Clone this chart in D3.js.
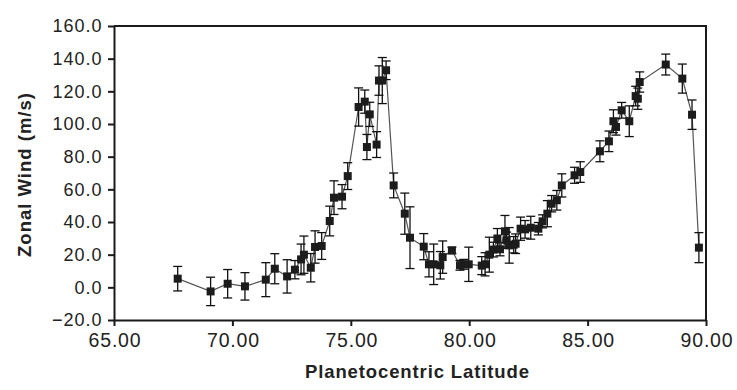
<!DOCTYPE html>
<html>
<head>
<meta charset="utf-8">
<script src="https://cdn.jsdelivr.net/npm/d3@7"></script>
<style>
  body { margin: 0; background: #fff; }
  svg { display: block; font-family: "Liberation Sans", Arial, sans-serif; }
</style>
</head>
<body>
<svg id="chart" width="737" height="390"></svg>
<script>
// planetocentric latitude (deg)
var latitude = [
    67.69, 69.08, 69.80, 70.53, 71.41, 71.79, 72.31, 72.64, 72.90, 73.02,
    73.31, 73.49, 73.77, 74.11, 74.29, 74.63, 74.87, 75.33, 75.59, 75.68,
    75.80, 76.09, 76.19, 76.33, 76.49, 76.81, 77.28, 77.50, 78.08, 78.30,
    78.50, 78.78, 78.88, 79.27, 79.61, 79.77, 79.98, 80.53, 80.67, 80.85,
    81.02, 81.19, 81.30, 81.51, 81.58, 81.69, 81.88, 81.96, 82.17, 82.36,
    82.60, 82.92, 83.10, 83.30, 83.48, 83.70, 83.91, 84.45, 84.69, 85.52,
    85.90, 86.09, 86.20, 86.44, 86.76, 87.03, 87.12, 87.20, 88.30, 89.00,
    89.41, 89.70
];
// zonal wind (m/s)
var wind = [
    5.3, -2.5, 2.2, 0.6, 4.7, 11.4, 6.7, 10.8, 17.1, 20.0,
    12.0, 24.7, 25.3, 40.6, 54.9, 55.5, 68.1, 110.4, 113.7, 85.9,
    105.9, 87.4, 126.6, 126.6, 132.9, 62.4, 45.1, 30.4, 24.9, 14.1,
    14.1, 13.5, 18.5, 22.6, 13.5, 14.1, 14.1, 13.3, 14.1, 20.0,
    23.1, 29.9, 23.3, 34.3, 28.8, 25.7, 26.1, 26.7, 35.9, 35.5,
    36.5, 35.9, 40.4, 45.1, 51.2, 53.3, 62.4, 68.6, 70.6, 83.3,
    89.4, 101.7, 98.2, 108.4, 101.7, 117.1, 115.5, 125.7, 136.4, 127.8,
    105.7, 24.3
];
// error bar half-length (m/s)
var windErr = [
    7.5, 8.7, 8.7, 8.4, 10.4, 9.2, 10.2, 5.6, 9.4, 11.4,
    8.7, 9.9, 8.2, 9.1, 10.3, 7.4, 8.2, 11.7, 7.1, 7.7,
    7.4, 7.9, 9.0, 14.1, 5.7, 7.6, 12.6, 18.9, 8.0, 7.7,
    12.4, 8.4, 9.9, 2.0, 3.0, 3.0, 10.5, 5.5, 7.1, 10.7,
    4.5, 6.1, 4.0, 9.7, 5.0, 10.9, 5.0, 6.0, 7.1, 5.4,
    7.0, 3.8, 4.0, 8.0, 5.0, 6.0, 7.1, 4.9, 6.3, 6.4,
    6.3, 7.0, 5.0, 4.8, 9.4, 6.0, 6.5, 6.2, 6.4, 8.9,
    9.0, 9.2
];
var xTicks = [65, 70, 75, 80, 85, 90];
var yTicks = [-20, 0, 20, 40, 60, 80, 100, 120, 140, 160];

var points = latitude.map(function(d, i) {
    return {x: d, y: wind[i], e: windErr[i]};
});

var margin = { top: 26, right: 31, bottom: 70, left: 114 };
var width = 737 - margin.left - margin.right;
var height = 320 - margin.top;

var svg = d3.select("#chart")
    .append("g")
    .attr("transform", "translate(" + margin.left + "," + margin.top + ")");

var xScale = d3.scaleLinear().domain([65, 90]).range([0, width]);
var yScale = d3.scaleLinear().domain([-20, 160]).range([height, 0]);

// frame top and right
svg.append("path")
    .attr("d", "M0,0H" + width + "V" + height)
    .attr("fill", "none")
    .attr("stroke", "#1a1a1a")
    .attr("stroke-width", 2);

// x axis
var xAxis = svg.append("g")
    .attr("transform", "translate(0," + height + ")")
    .call(d3.axisBottom(xScale)
        .tickValues(xTicks)
        .tickFormat(d3.format(".2f"))
        .tickSize(6)
        .tickSizeOuter(0));
xAxis.select(".domain").attr("stroke", "#1a1a1a").attr("stroke-width", 2);
xAxis.selectAll(".tick line").attr("stroke", "#1a1a1a").attr("stroke-width", 2);
xAxis.selectAll(".tick text")
    .attr("y", 13)
    .attr("dx", "0.5px")
    .style("font-size", "19.5px")
    .style("letter-spacing", "0.8px")
    .attr("fill", "#222");

// y axis
var yAxis = svg.append("g")
    .call(d3.axisLeft(yScale)
        .tickValues(yTicks)
        .tickFormat(d3.format(".1f"))
        .tickSize(6)
        .tickSizeOuter(0));
yAxis.select(".domain").attr("stroke", "#1a1a1a").attr("stroke-width", 2);
yAxis.selectAll(".tick line").attr("stroke", "#1a1a1a").attr("stroke-width", 2);
yAxis.selectAll(".tick text")
    .attr("x", -11.5)
    .style("font-size", "18px")
    .style("letter-spacing", "1px")
    .attr("fill", "#222");

// connecting line
var line = d3.line()
    .x(function(d) { return xScale(d.x); })
    .y(function(d) { return yScale(d.y); });

svg.append("path")
    .datum(points)
    .attr("d", line)
    .attr("fill", "none")
    .attr("stroke", "#555")
    .attr("stroke-width", 1.2);

// error bars
var bars = svg.append("g").selectAll("g")
    .data(points)
    .enter().append("g")
    .attr("stroke", "#111")
    .attr("stroke-width", 1.3);

bars.append("line")
    .attr("x1", function(d) { return xScale(d.x); })
    .attr("x2", function(d) { return xScale(d.x); })
    .attr("y1", function(d) { return yScale(d.y - d.e); })
    .attr("y2", function(d) { return yScale(d.y + d.e); });

[-1, 1].forEach(function(s) {
    bars.append("line")
        .attr("x1", function(d) { return xScale(d.x) - 4.5; })
        .attr("x2", function(d) { return xScale(d.x) + 4.5; })
        .attr("y1", function(d) { return yScale(d.y + s * d.e); })
        .attr("y2", function(d) { return yScale(d.y + s * d.e); });
});

// markers
svg.append("g").selectAll("rect")
    .data(points)
    .enter().append("rect")
    .attr("x", function(d) { return xScale(d.x) - 4; })
    .attr("y", function(d) { return yScale(d.y) - 4; })
    .attr("width", 8)
    .attr("height", 8)
    .attr("fill", "#1c1c1c");

// axis titles
svg.append("text")
    .attr("x", 303)
    .attr("y", height + 58)
    .attr("text-anchor", "middle")
    .attr("textLength", 224)
    .attr("lengthAdjust", "spacing")
    .style("font-size", "18.5px")
    .style("font-weight", "bold")
    .attr("fill", "#222")
    .text("Planetocentric Latitude");

svg.append("text")
    .attr("transform", "translate(" + (-83) + "," + (175 - margin.top) + ") rotate(-90)")
    .attr("text-anchor", "middle")
    .attr("textLength", 164)
    .attr("lengthAdjust", "spacing")
    .style("font-size", "18.5px")
    .style("font-weight", "bold")
    .attr("fill", "#222")
    .text("Zonal Wind (m/s)");
</script>
</body>
</html>
